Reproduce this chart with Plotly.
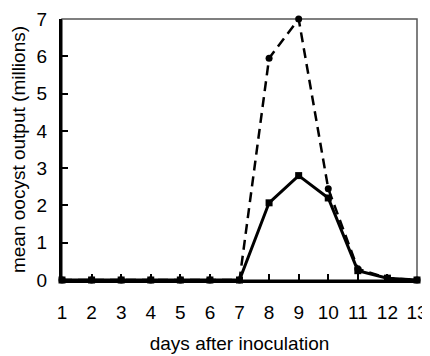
import plotly.graph_objects as go

days = list(range(1, 14))
dashed_vals = [0, 0, 0, 0, 0, 0, 0, 5.95, 7.0, 2.45, 0.3, 0.05, 0]
solid_vals = [0, 0, 0, 0, 0, 0, 0, 2.07, 2.8, 2.2, 0.25, 0.05, 0]
y_ticks = [0, 1, 2, 3, 4, 5, 6, 7]

fig = go.Figure()
fig.add_trace(go.Scatter(x=days, y=dashed_vals, mode="lines+markers",
                         line=dict(color="black", width=2.5, dash="10px,6px"),
                         marker=dict(symbol="circle", size=7, color="black"),
                         cliponaxis=False, showlegend=False))
fig.add_trace(go.Scatter(x=days, y=solid_vals, mode="lines+markers",
                         line=dict(color="black", width=3),
                         marker=dict(symbol="square", size=7, color="black"),
                         cliponaxis=False, showlegend=False))

font = dict(family="Liberation Sans, Arial, sans-serif", size=19, color="black")
fig.update_layout(
    width=422, height=348,
    margin=dict(l=54, r=13, t=11, b=76, autoexpand=False),
    plot_bgcolor="white", paper_bgcolor="white",
    font=font,
    xaxis=dict(range=[1, 13], tickvals=days, ticks="inside", ticklen=6, tickwidth=2,
               tickcolor="black", showline=True, linecolor="black", linewidth=3,
               ticklabelstandoff=13, automargin=False,
               mirror=False, showgrid=False, zeroline=False,
               title=dict(text="days after inoculation", standoff=15, font=dict(size=19))),
    yaxis=dict(range=[0, 7], tickvals=y_ticks, ticks="inside", ticklen=6, tickwidth=2,
               tickcolor="black", showline=True, linecolor="black", linewidth=3,
               ticklabelstandoff=8, automargin=False,
               showgrid=False, zeroline=False,
               title=dict(text="mean oocyst output (millions)", standoff=6, font=dict(size=19))),
    shapes=[dict(type="rect", xref="paper", yref="paper", x0=0, x1=1, y0=0, y1=1,
                 line=dict(color="#555", width=1.5), layer="below")],
)
fig.write_html("out.html")
